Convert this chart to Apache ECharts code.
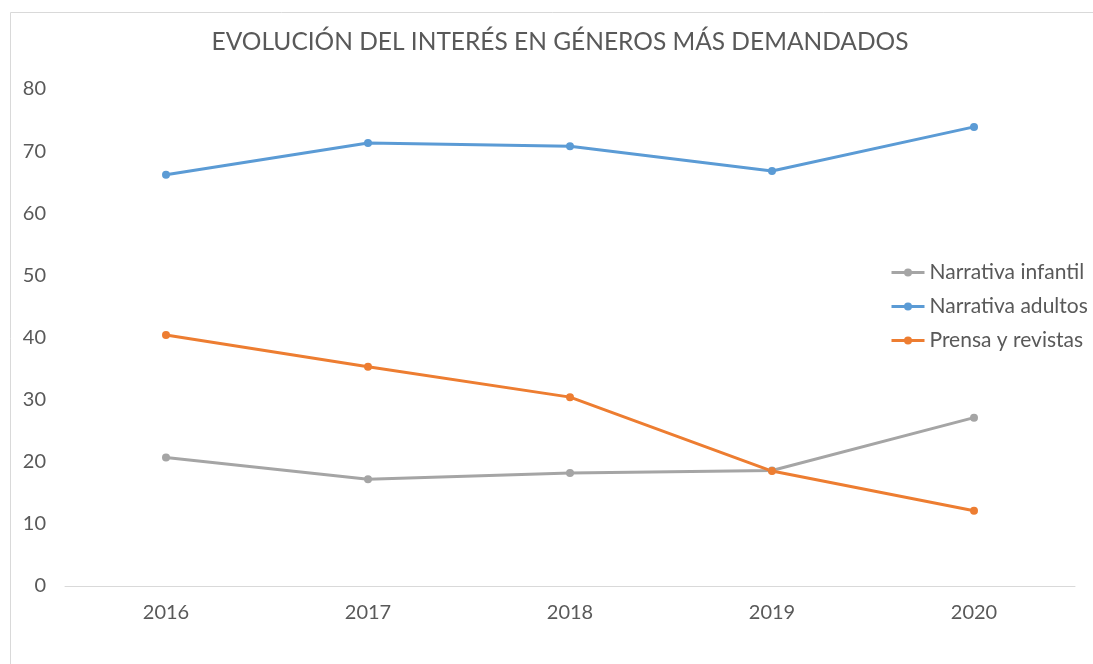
<!DOCTYPE html>
<html>
<head>
<meta charset="utf-8">
<script src="https://cdn.jsdelivr.net/npm/echarts@6/dist/echarts.min.js"></script>
<style>
  html, body { margin: 0; padding: 0; background: #fff; }
  #chart { width: 1093px; height: 664px; }
</style>
</head>
<body>
<div id="chart"></div>
<script>
// values
const years = ['2016', '2017', '2018', '2019', '2020']
const infantil = [20.7, 17.2, 18.2, 18.6, 27.1]
const adultos = [66.2, 71.3, 70.8, 66.8, 73.9]
const prensa = [40.4, 35.3, 30.4, 18.5, 12.1]
const seriesNames = ['Narrativa infantil', 'Narrativa adultos', 'Prensa y revistas']
const seriesColors = ['#A5A5A5', '#5B9BD5', '#ED7D31']

const chart = echarts.init(document.getElementById('chart'))

function makeSeries () {
  const values = [infantil, adultos, prensa]
  return values.map((v, i) => ({
    type: 'line',
    name: seriesNames[i],
    data: v,
    symbol: 'circle',
    symbolSize: 8,
    color: seriesColors[i],
    lineStyle: { width: 3, color: seriesColors[i] },
    itemStyle: { color: seriesColors[i] }
  }))
}

const option = {
  animation: false,
  textStyle: { fontFamily: 'Lato' },
  title: {
    text: 'EVOLUCIÓN DEL INTERÉS EN GÉNEROS MÁS DEMANDADOS',
    left: 555,
    top: 25,
    textAlign: 'center',
    textStyle: { fontFamily: 'Lato', fontSize: 24.5, fontWeight: 'normal', color: '#595959' }
  },
  graphic: [{
    type: 'rect',
    shape: { x: 10.5, y: 12.5, width: 1200, height: 800 },
    style: { fill: 'none', stroke: '#d9d9d9', lineWidth: 1 },
    silent: true
  }],
  legend: {
    orient: 'vertical',
    left: 885,
    top: 257,
    itemWidth: 33,
    itemHeight: 10,
    itemGap: 13,
    data: seriesNames,
    lineStyle: { width: 3 },
    textStyle: { fontFamily: 'Lato', fontSize: 21, color: '#595959' }
  },
  grid: { left: 65, right: 18, top: 89, bottom: 78 },
  xAxis: {
    type: 'category',
    data: years,
    boundaryGap: true,
    axisLine: { lineStyle: { color: '#d9d9d9', width: 1 } },
    axisTick: { show: false },
    axisLabel: { fontFamily: 'Lato', fontSize: 20, color: '#595959', margin: 17 }
  },
  yAxis: {
    type: 'value',
    min: 0,
    max: 80,
    interval: 10,
    axisLine: { show: false },
    axisTick: { show: false },
    splitLine: { show: false },
    axisLabel: { fontFamily: 'Lato', fontSize: 20, color: '#595959', margin: 19 }
  },
  series: makeSeries()
}
chart.setOption(option)
</script>
</body>
</html>
